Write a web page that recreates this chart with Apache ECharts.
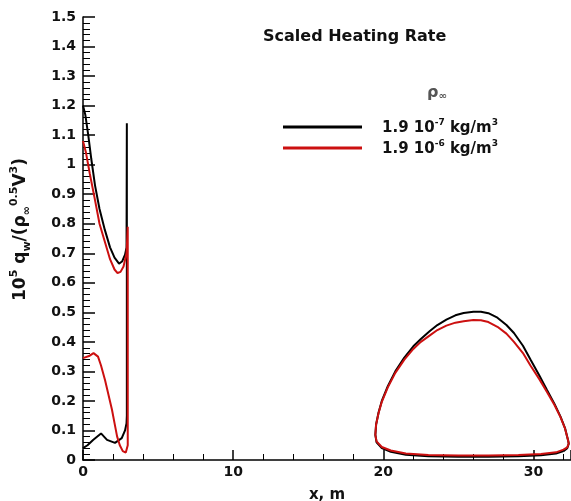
<!DOCTYPE html>
<html>
<head>
<meta charset="utf-8">
<script src="https://cdn.jsdelivr.net/npm/echarts@6/dist/echarts.min.js"></script>
<style>html,body{margin:0;padding:0;background:#fff}#c{width:571px;height:501px}</style>
</head>
<body>
<div id="c"></div>
<script>
// Tick labels: x every 10, y every 0.1
var xTicks = [0, 10, 20, 30];
var yTicks = [0, 0.1, 0.2, 0.3, 0.4, 0.5, 0.6, 0.7, 0.8, 0.9, 1, 1.1, 1.2, 1.3, 1.4, 1.5];

// Legend labels
var legendNames = ['1.9 10-7 kg/m3', '1.9 10-6 kg/m3'];

// Black (rho = 1.9e-7) nose region: upper surface, jump, lower surface
var blackNoseX = [0, 0.15, 0.35, 0.55, 0.8, 1.1, 1.45, 1.8, 2.1, 2.4, 2.6, 2.8, 2.9, 2.92, 2.92, 2.9, 2.8, 2.58, 2.13, 1.6, 1.2, 0.67, 0.3, 0];
var blackNoseY = [1.2, 1.17, 1.1, 1.02, 0.93, 0.85, 0.78, 0.72, 0.685, 0.665, 0.672, 0.695, 0.72, 1.14, 0.15, 0.125, 0.1, 0.074, 0.058, 0.068, 0.09, 0.068, 0.05, 0.04];

// Red (rho = 1.9e-6) nose region
var redNoseX = [0, 0.2, 0.45, 0.8, 1.1, 1.45, 1.8, 2.1, 2.3, 2.5, 2.7, 2.9, 2.98, 2.98, 2.85, 2.65, 2.45, 2.27, 2.1, 1.93, 1.7, 1.47, 1.2, 1.0, 0.7, 0.4, 0];
var redNoseY = [1.08, 1.04, 0.97, 0.88, 0.8, 0.74, 0.68, 0.645, 0.633, 0.637, 0.655, 0.7, 0.79, 0.05, 0.025, 0.03, 0.05, 0.08, 0.125, 0.17, 0.22, 0.27, 0.32, 0.35, 0.362, 0.352, 0.345];

// Black aft loop
var blackLoopX = [32.0, 31.5, 30.5, 29, 27, 25, 23, 21.5, 20.5, 19.9, 19.55, 19.47, 19.52, 19.68, 19.9, 20.3, 20.8, 21.4, 22.0, 22.5, 23.1, 23.6, 24.2, 24.8, 25.35, 26.0, 26.5, 27.0, 27.6, 28.2, 28.7, 29.3, 29.8, 30.4, 30.9, 31.4, 31.8, 32.1, 32.3, 32.35, 32.25, 32.0];
var blackLoopY = [0.03, 0.022, 0.016, 0.013, 0.011, 0.011, 0.013, 0.018, 0.028, 0.04, 0.06, 0.085, 0.12, 0.16, 0.2, 0.25, 0.3, 0.347, 0.385, 0.41, 0.437, 0.457, 0.475, 0.49, 0.498, 0.502, 0.502, 0.497, 0.482, 0.457, 0.43, 0.387, 0.34, 0.285, 0.237, 0.19, 0.147, 0.108, 0.068, 0.055, 0.04, 0.03];

// Red aft loop
var redLoopX = [32.0, 31.5, 30.5, 29, 27, 25, 23, 21.5, 20.5, 19.9, 19.55, 19.47, 19.52, 19.68, 19.9, 20.3, 20.8, 21.4, 22.0, 22.5, 23.1, 23.6, 24.2, 24.8, 25.35, 26.0, 26.5, 27.0, 27.6, 28.2, 28.7, 29.3, 29.8, 30.4, 30.9, 31.4, 31.8, 32.1, 32.3, 32.35, 32.25, 32.0];
var redLoopY = [0.035, 0.026, 0.02, 0.017, 0.015, 0.015, 0.017, 0.022, 0.032, 0.044, 0.063, 0.085, 0.12, 0.158, 0.197, 0.246, 0.295, 0.34, 0.376, 0.4, 0.422, 0.44, 0.455, 0.465, 0.47, 0.474, 0.473, 0.467, 0.451, 0.428, 0.4, 0.362, 0.32, 0.273, 0.23, 0.186, 0.145, 0.107, 0.068, 0.056, 0.043, 0.035];

function pairs(xs, ys) { return xs.map(function (x, i) { return [x, ys[i]]; }); }

var FONT = 'DejaVu Sans';
var chart = echarts.init(document.getElementById('c'), null, {renderer: 'canvas'});
var lineStyleB = {color: '#000', width: 2};
var lineStyleR = {color: '#cc1010', width: 2};

chart.setOption({
  animation: false,
  backgroundColor: '#fff',
  title: [{
    text: 'Scaled Heating Rate',
    left: 258, top: 24,
    textStyle: {fontFamily: FONT, fontWeight: 'bold', fontSize: 16, color: '#111'}
  }, {
    text: '{r|ρ}{s|∞}',
    left: 422, top: 80,
    textStyle: {rich: {
      r: {fontFamily: FONT, fontSize: 16, color: '#555', verticalAlign: 'top'},
      s: {fontFamily: FONT, fontSize: 10, color: '#555', verticalAlign: 'bottom'}
    }}
  }],
  legend: {
    data: [legendNames[0], legendNames[1]],
    orient: 'vertical',
    left: 278, top: 113,
    itemWidth: 79, itemHeight: 3, itemGap: 3,
    icon: 'rect',
    selectedMode: false,
    formatter: function (n) {
      var e = n === legendNames[0] ? '-7' : '-6';
      return '{t|1.9 10}{s|' + e + '}{t| kg/m}{s|3}';
    },
    textStyle: {
      padding: [0, 0, 0, 15],
      rich: {
        t: {fontFamily: FONT, fontWeight: 'bold', fontSize: 15, color: '#111', verticalAlign: 'bottom', lineHeight: 18},
        s: {fontFamily: FONT, fontWeight: 'bold', fontSize: 9, color: '#111', verticalAlign: 'top', lineHeight: 18}
      }
    }
  },
  grid: {left: 83, right: 0, top: 17, bottom: 41, containLabel: false, outerBoundsMode: 'none'},
  xAxis: {
    type: 'value', min: xTicks[0], max: 32.5, interval: 10,
    name: 'x, m', nameLocation: 'middle', nameGap: 28,
    nameTextStyle: {fontFamily: FONT, fontWeight: 'bold', fontSize: 15, color: '#111'},
    axisLine: {show: true, onZero: false, lineStyle: {color: '#000', width: 1.5}},
    axisTick: {show: true, inside: true, length: 10, lineStyle: {color: '#000', width: 1.5}},
    minorTick: {show: true, splitNumber: 5, length: 6, lineStyle: {color: '#000', width: 1}},
    splitLine: {show: false},
    axisLabel: {showMaxLabel: false, margin: 5, fontFamily: FONT, fontWeight: 'bold', fontSize: 14, color: '#111'}
  },
  yAxis: {
    type: 'value', min: yTicks[0], max: yTicks[yTicks.length - 1], interval: 0.1,
    name: '{b|10}{p|5}{b| q}{u|w}{b|/(ρ}{u|∞}{p|0.5}{b|V}{p|3}{b|)}',
    nameLocation: 'middle', nameGap: 50, nameRotate: 90,
    nameTextStyle: {padding: [0, 0, 0, 18], rich: {
      b: {fontFamily: FONT, fontWeight: 'bold', fontSize: 17, color: '#111', verticalAlign: 'middle', lineHeight: 24},
      p: {fontFamily: FONT, fontWeight: 'bold', fontSize: 11, color: '#111', verticalAlign: 'top', lineHeight: 24},
      u: {fontFamily: FONT, fontWeight: 'bold', fontSize: 11, color: '#111', verticalAlign: 'bottom', lineHeight: 24}
    }},
    axisLine: {show: true, lineStyle: {color: '#000', width: 1.5}},
    axisTick: {show: true, inside: true, length: 12, lineStyle: {color: '#000', width: 1.5}},
    minorTick: {show: true, splitNumber: 5, length: 7, lineStyle: {color: '#000', width: 1}},
    splitLine: {show: false},
    axisLabel: {margin: 7, fontFamily: FONT, fontWeight: 'bold', fontSize: 14, color: '#111'}
  },
  series: [
    {name: legendNames[0], type: 'line', showSymbol: false, symbol: 'none', data: pairs(blackNoseX, blackNoseY), lineStyle: lineStyleB, itemStyle: {color: '#000'}, z: 2},
    {name: legendNames[0], type: 'line', showSymbol: false, symbol: 'none', data: pairs(blackLoopX, blackLoopY), lineStyle: lineStyleB, itemStyle: {color: '#000'}, z: 2},
    {name: legendNames[1], type: 'line', showSymbol: false, symbol: 'none', data: pairs(redNoseX, redNoseY), lineStyle: lineStyleR, itemStyle: {color: '#cc1010'}, z: 3},
    {name: legendNames[1], type: 'line', showSymbol: false, symbol: 'none', data: pairs(redLoopX, redLoopY), lineStyle: lineStyleR, itemStyle: {color: '#cc1010'}, z: 3}
  ]
});
</script>
</body>
</html>
